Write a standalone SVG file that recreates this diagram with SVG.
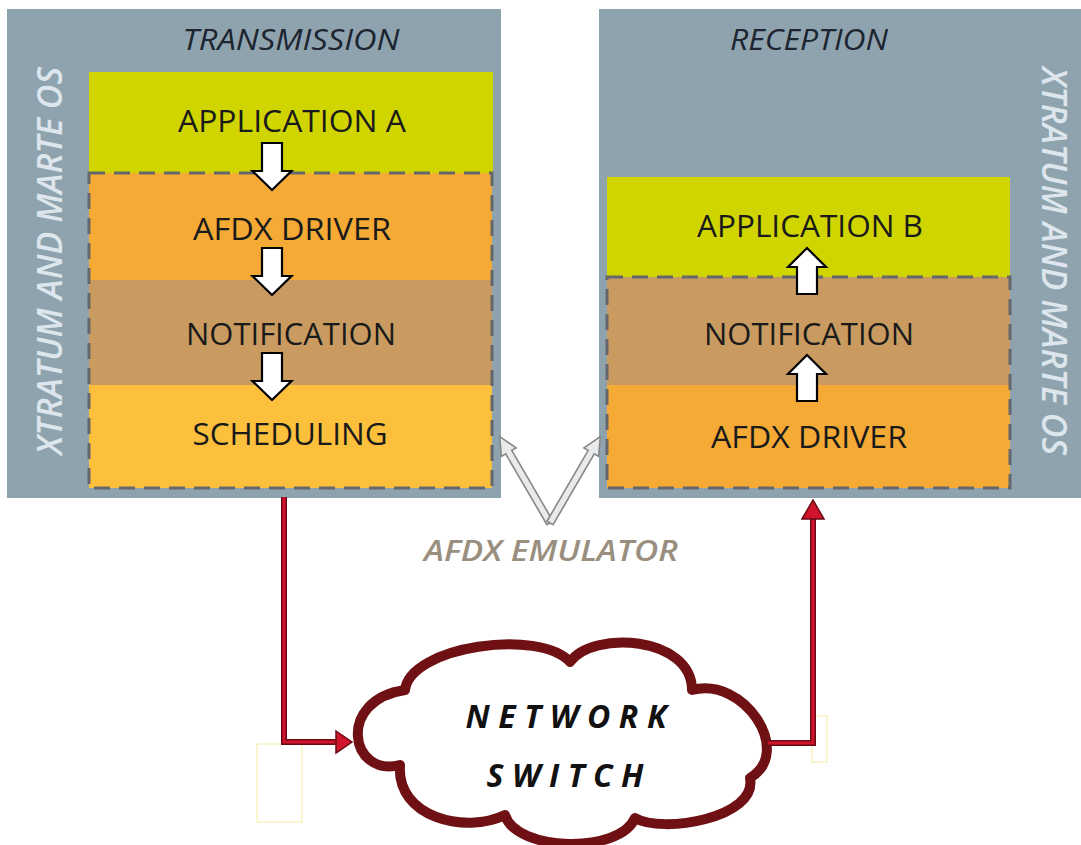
<svg xmlns="http://www.w3.org/2000/svg" width="1081" height="845" viewBox="0 0 1081 845">
<style>
.panel{fill:#8fa3af}
.app{fill:#d0d500}
.drv{fill:#f5aa36}
.ntf{fill:#c99b60}
.sch{fill:#fcc03d}
.dash{fill:none;stroke:#66676a;stroke-width:3;stroke-dasharray:16 9}
.lbl{font-family:"Open Sans","Liberation Sans",sans-serif;font-size:31px;fill:#1a1a1a;text-anchor:middle}
.ttl{font-family:"Open Sans","Liberation Sans",sans-serif;font-size:30px;font-style:italic;fill:#1c2530;text-anchor:middle}
.os{font-family:"Open Sans","Liberation Sans",sans-serif;font-size:35px;font-weight:600;font-style:italic;fill:#dde6ec;text-anchor:middle}
.wa{fill:#fff;stroke:#000;stroke-width:2.2;stroke-linejoin:miter}
.ea{fill:#e9eaeb;stroke:#858789;stroke-width:1.6}
.rl{fill:none;stroke:#6a0a14;stroke-width:6}
.rc{fill:none;stroke:#d0142c;stroke-width:3}
.rh{fill:#d0142c;stroke:#6a0a14;stroke-width:1.5}
.cloudtxt{font-family:"Open Sans","Liberation Sans",sans-serif;font-size:32px;font-weight:bold;font-style:italic;fill:#111;text-anchor:middle}
</style>
<defs>
<path id="down" d="M-10,0 H10 V28 H19.5 L0,47 L-19.5,28 H-10 Z"/>
<path id="up" d="M0,0 L19,19 H10 V46 H-10 V19 H-19 Z"/>
<polygon id="earrow" points="0,-3.5 82,-3.5 82,-8.5 100,0 82,8.5 82,3.5 0,3.5"/>
</defs>
<rect width="1081" height="845" fill="#fff"/>

<g id="transmission">
<rect class="panel" x="7" y="9" width="494" height="489"/>
<text class="ttl" x="291" y="50" textLength="217" lengthAdjust="spacingAndGlyphs">TRANSMISSION</text>
<text class="os" transform="translate(62,261) rotate(-90)" textLength="388" lengthAdjust="spacingAndGlyphs">XTRATUM AND MARTE OS</text>
</g>
<g id="app-a">
<rect class="app" x="89" y="72" width="404" height="101"/>
<text class="lbl" x="292" y="132" textLength="228" lengthAdjust="spacingAndGlyphs">APPLICATION A</text>
</g>
<g id="tx-driver">
<rect class="drv" x="89" y="173" width="403" height="107"/>
<text class="lbl" x="292" y="240" textLength="198" lengthAdjust="spacingAndGlyphs">AFDX DRIVER</text>
</g>
<g id="tx-notification">
<rect class="ntf" x="89" y="280" width="403" height="105"/>
<text class="lbl" x="291" y="345" textLength="210" lengthAdjust="spacingAndGlyphs">NOTIFICATION</text>
</g>
<g id="tx-scheduling">
<rect class="sch" x="89" y="385" width="403" height="103"/>
<text class="lbl" x="290" y="445" textLength="195" lengthAdjust="spacingAndGlyphs">SCHEDULING</text>
</g>
<rect class="dash" x="89" y="173" width="403" height="315"/>

<g id="reception">
<rect class="panel" x="599" y="9" width="482" height="489"/>
<text class="ttl" x="809" y="50" textLength="158" lengthAdjust="spacingAndGlyphs">RECEPTION</text>
<text class="os" transform="translate(1042,261) rotate(90)" textLength="388" lengthAdjust="spacingAndGlyphs">XTRATUM AND MARTE OS</text>
</g>
<g id="app-b">
<rect class="app" x="607" y="177" width="403" height="100"/>
<text class="lbl" x="810" y="237" textLength="226" lengthAdjust="spacingAndGlyphs">APPLICATION B</text>
</g>
<g id="rx-notification">
<rect class="ntf" x="607" y="277" width="403" height="108"/>
<text class="lbl" x="809" y="345" textLength="210" lengthAdjust="spacingAndGlyphs">NOTIFICATION</text>
</g>
<g id="rx-driver">
<rect class="drv" x="607" y="385" width="403" height="103"/>
<text class="lbl" x="809" y="448" textLength="196" lengthAdjust="spacingAndGlyphs">AFDX DRIVER</text>
</g>
<rect class="dash" x="607" y="277" width="403" height="211"/>

<g id="network-switch">
<path d="M400,765 C350,778 336,700 405,690 C410,646 540,628 570,662 C592,630 692,636 692,690 C744,676 794,752 750,778 C758,818 662,834 635,818 C620,854 516,852 505,815 C466,834 396,818 400,765 Z" fill="#fff" stroke="#6e1014" stroke-width="10" stroke-linejoin="round"/>
<text class="cloudtxt" x="566" y="728" textLength="201" lengthAdjust="spacing">NETWORK</text>
<text class="cloudtxt" x="565" y="787" textLength="157" lengthAdjust="spacing">SWITCH</text>
</g>

<g id="emulator">
<text x="551" y="561" font-family="'Open Sans','Liberation Sans',sans-serif" font-size="29" font-style="italic" font-weight="600" fill="#9a8f7f" text-anchor="middle" textLength="254" lengthAdjust="spacingAndGlyphs">AFDX EMULATOR</text>
</g>

<rect x="257" y="744" width="45" height="78" fill="#fff" stroke="#f6efb0" stroke-width="1.2"/>
<rect x="812" y="716" width="15" height="46" fill="#fff" stroke="#f6efb0" stroke-width="1.2"/>

<g id="connectors">
<use href="#down" class="wa" x="272" y="143"/>
<use href="#down" class="wa" x="272" y="248"/>
<use href="#down" class="wa" x="272" y="353"/>
<use href="#up" class="wa" x="807" y="248"/>
<use href="#up" class="wa" x="807" y="355"/>
<use href="#earrow" class="ea" transform="translate(550,523) rotate(-120.2)"/>
<use href="#earrow" class="ea" transform="translate(550,523) rotate(-59.8)"/>
<path class="rl" d="M284,497 V742 H338"/>
<path class="rc" d="M284,497 V742 H338"/>
<polygon class="rh" points="336,731 352,742 336,753"/>
<path class="rl" d="M768,743 H813 V517"/>
<path class="rc" d="M768,743 H813 V517"/>
<polygon class="rh" points="802,519 813,500 824,519"/>
</g>
</svg>
